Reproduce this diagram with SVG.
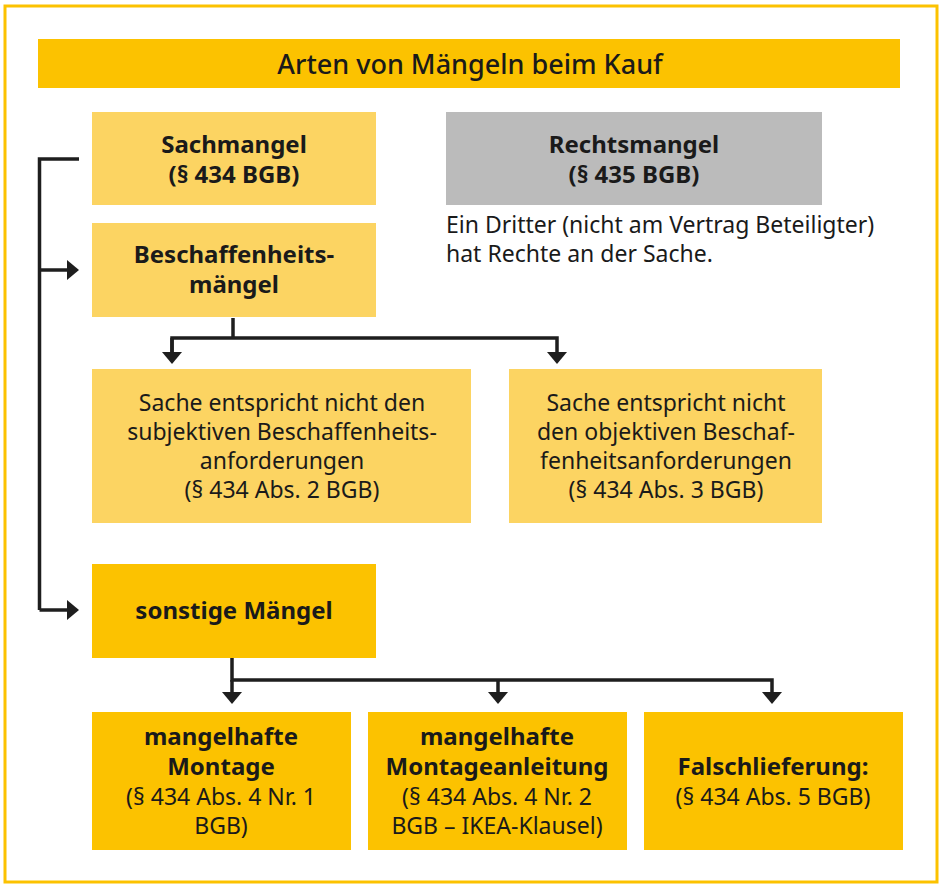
<svg xmlns="http://www.w3.org/2000/svg" width="942" height="885" viewBox="0 0 942 885">
<defs>
<style>
.t{font-family:"Noto Sans","Liberation Sans",sans-serif;fill:#1a1a1a;text-anchor:middle}
.b{font-weight:bold;font-size:24px}
.r{font-size:23px}
.ln{fill:none;stroke:#1e1e1e;stroke-width:3.5}
.y1{fill:#fcd462}
.y2{fill:#fcc200}
</style>
<marker id="ah" markerWidth="12" markerHeight="20" refX="0" refY="10" orient="auto" markerUnits="userSpaceOnUse">
<path d="M0,0 L12,10 L0,20 Z" fill="#1e1e1e"/>
</marker>
</defs>
<rect width="942" height="885" fill="#fff"/>
<rect x="5" y="6" width="932" height="876" fill="none" stroke="#fcc200" stroke-width="3"/>
<g id="title"><rect x="38" y="39" width="862" height="49" class="y2"/><text class="t" x="470" y="74" font-size="27" font-weight="500">Arten von Mängeln beim Kauf</text></g>
<g id="sachmangel"><rect x="92" y="112" width="284" height="93" class="y1"/><text class="t b" x="234" y="153">Sachmangel</text><text class="t b" x="234" y="183">(§ 434 BGB)</text></g>
<g id="rechtsmangel"><rect x="446" y="112" width="376" height="93" fill="#bbbbbb"/><text class="t b" x="634" y="153">Rechtsmangel</text><text class="t b" x="634" y="183">(§ 435 BGB)</text>
<text class="t r" x="446" y="233" style="text-anchor:start">Ein Dritter (nicht am Vertrag Beteiligter)</text><text class="t r" x="446" y="262" style="text-anchor:start">hat Rechte an der Sache.</text></g>
<g id="beschaffenheit"><rect x="92" y="223" width="284" height="94" class="y1"/><text class="t b" x="234" y="263">Beschaffenheits-</text><text class="t b" x="234" y="293">mängel</text></g>
<g id="subjektiv"><rect x="92" y="369" width="379" height="154" class="y1"/><text class="t r" x="282" y="411">Sache entspricht nicht den</text><text class="t r" x="282" y="440">subjektiven Beschaffenheits-</text><text class="t r" x="282" y="469">anforderungen</text><text class="t r" x="282" y="498">(§ 434 Abs. 2 BGB)</text></g>
<g id="objektiv"><rect x="509" y="369" width="313" height="154" class="y1"/><text class="t r" x="666" y="411">Sache entspricht nicht</text><text class="t r" x="666" y="440">den objektiven Beschaf-</text><text class="t r" x="666" y="469">fenheitsanforderungen</text><text class="t r" x="666" y="498">(§ 434 Abs. 3 BGB)</text></g>
<g id="sonstige"><rect x="92" y="564" width="284" height="94" class="y2"/><text class="t b" x="234" y="619">sonstige Mängel</text></g>
<g id="montage"><rect x="92" y="712" width="259" height="138" class="y2"/><text class="t b" x="221" y="745">mangelhafte</text><text class="t b" x="221" y="775">Montage</text><text class="t r" x="221" y="805">(§ 434 Abs. 4 Nr. 1</text><text class="t r" x="221" y="834">BGB)</text></g>
<g id="anleitung"><rect x="368" y="712" width="259" height="138" class="y2"/><text class="t b" x="497" y="745">mangelhafte</text><text class="t b" x="497" y="775">Montageanleitung</text><text class="t r" x="497" y="805">(§ 434 Abs. 4 Nr. 2</text><text class="t r" x="497" y="834">BGB – IKEA-Klausel)</text></g>
<g id="falsch"><rect x="644" y="712" width="259" height="138" class="y2"/><text class="t b" x="773" y="775">Falschlieferung:</text><text class="t r" x="773" y="805">(§ 434 Abs. 5 BGB)</text></g>
<g id="connectors">
<path class="ln" d="M79,159 H39.5 V610"/>
<path class="ln" d="M39.5,270 H67" marker-end="url(#ah)"/>
<path class="ln" d="M39.5,610 H67" marker-end="url(#ah)"/>
<path class="ln" d="M233,318 V338"/>
<path class="ln" d="M172,352 V338 H557 V352" marker-end="url(#ah)"/>
<path class="ln" d="M172,338 V352" marker-end="url(#ah)"/>
<path class="ln" d="M232,658 V680 H772 V692" marker-end="url(#ah)"/>
<path class="ln" d="M232,680 V692" marker-end="url(#ah)"/>
<path class="ln" d="M498,680 V692" marker-end="url(#ah)"/>
</g>
</svg>
